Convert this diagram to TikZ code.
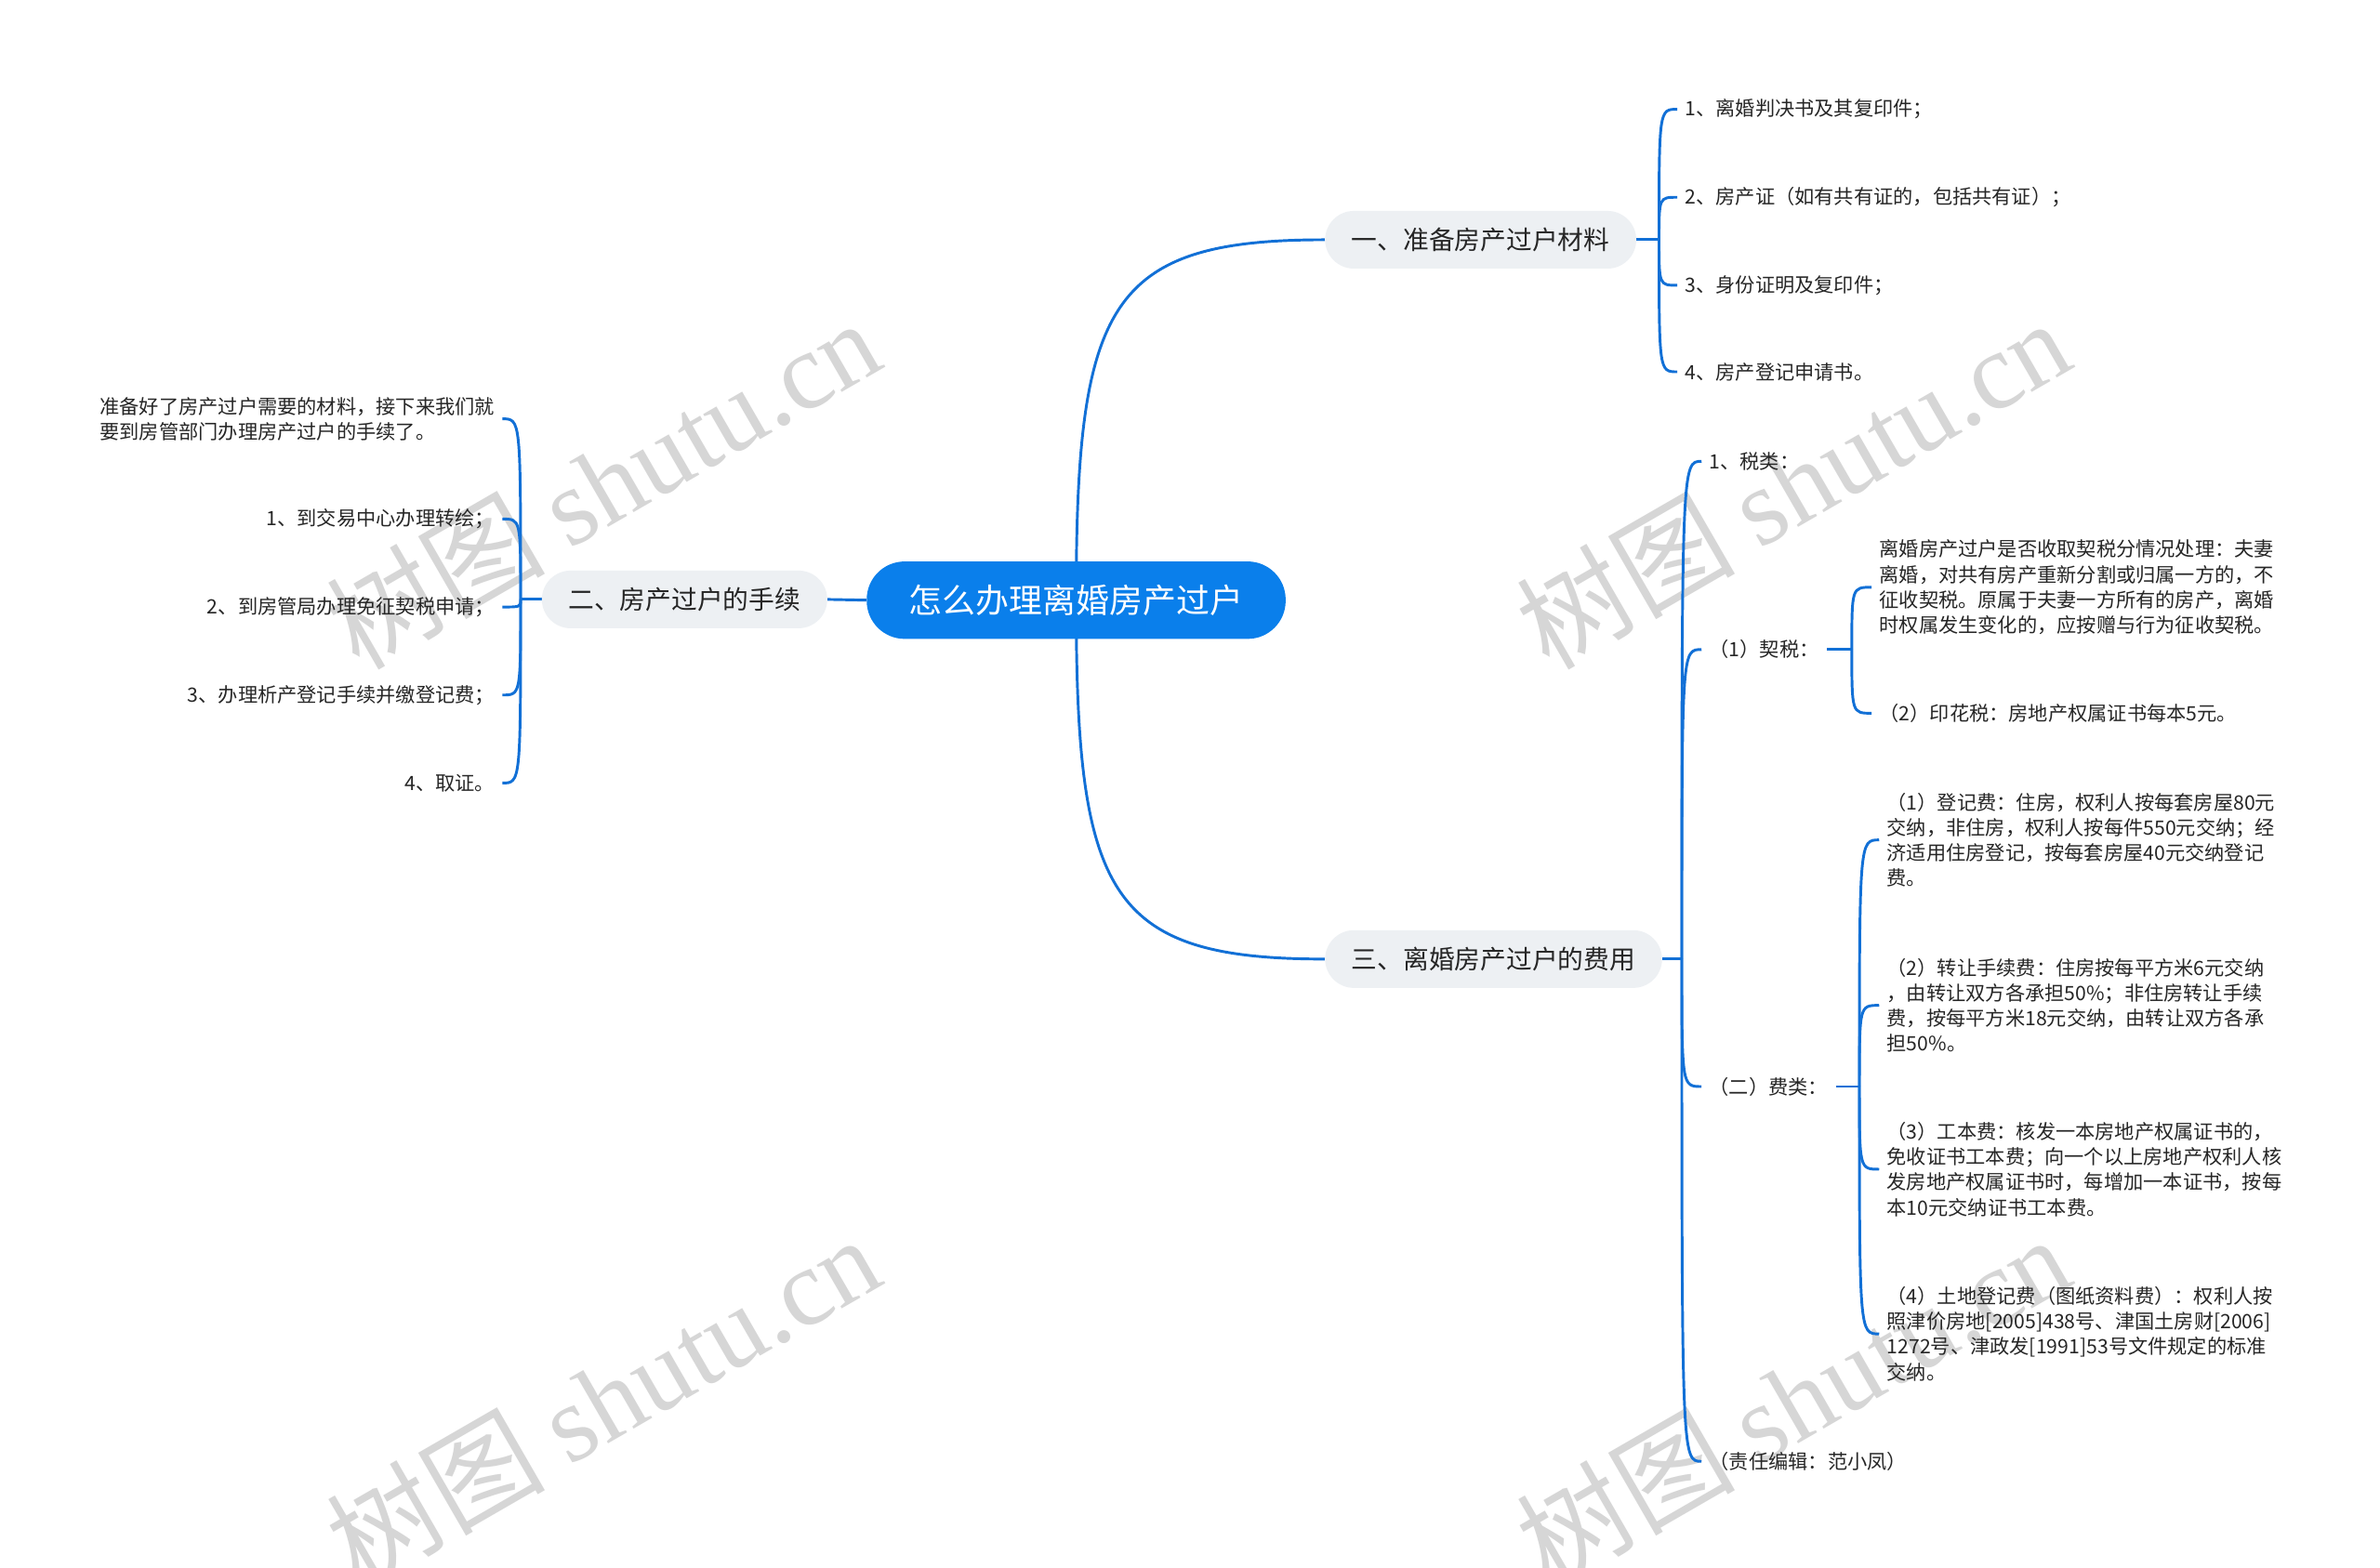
\documentclass[tikz,border=0pt]{standalone}
\usepackage{fontspec}
\setmainfont{Noto Sans CJK SC}
\newfontfamily\wmserif{Liberation Serif}
\newfontfamily\wmcjk{Noto Sans CJK SC}
\usetikzlibrary{backgrounds,calc}
\definecolor{mblue}{RGB}{10,127,235}
\definecolor{lblue}{RGB}{18,112,214}
\definecolor{boxgray}{RGB}{237,240,243}
\definecolor{txt}{RGB}{38,38,38}
\definecolor{wmgray}{RGB}{214,214,214}
\tikzset{
  conn/.style={draw=lblue, line width=1.8pt},
  rootbox/.style={fill=mblue, text=white, rounded corners=25pt, minimum width=276pt,
    minimum height=51pt, inner sep=0pt, font=\fontsize{22}{26}\selectfont},
  mainbox/.style={fill=boxgray, text=txt, rounded corners=19pt, minimum height=38pt,
    inner sep=0pt, font=\fontsize{17}{20}\selectfont},
  leaf/.style={text=txt, inner xsep=5pt, inner ysep=2pt, font=\fontsize{13}{16.7}\selectfont, align=left},
  leafr/.style={leaf, anchor=west},
  leafl/.style={leaf, anchor=east},
  wm/.style={text=wmgray, rotate=30, inner sep=0pt, font=\fontsize{72}{80}\selectfont}
}
\begin{document}
\begin{tikzpicture}[x=1pt,y=-1pt]
\useasboundingbox (0,0) rectangle (1568,1033);

% main nodes
\node[rootbox] (root) at (709,395.5) {怎么办理离婚房产过户};
\node[mainbox, minimum width=205pt] (b1) at (975.5,158) {一、准备房产过户材料};
\node[mainbox, minimum width=188pt] (b2) at (451,395) {二、房产过户的手续};
\node[mainbox, minimum width=222pt] (b3) at (984,632) {三、离婚房产过户的费用};

% junctions
\coordinate (jA) at (1093,158);
\coordinate (jC) at (1108,632);
\coordinate (jT) at (1220,428);
\coordinate (jF) at (1225,716);
\coordinate (jL) at (343,395);

% branch 1 leaves
\node[leafr] (r1) at (1105,72) {1、离婚判决书及其复印件；};
\node[leafr] (r2) at (1105,130) {2、房产证（如有共有证的，包括共有证）；};
\node[leafr] (r3) at (1105,188) {3、身份证明及复印件；};
\node[leafr] (r4) at (1105,245) {4、房产登记申请书。};

% branch 3 leaves
\node[leafr] (t1) at (1121,304) {1、税类：};
\node[leafr] (t2) at (1121,428) {（1）契税：};
\node[leafr] (t3) at (1121,716) {（二）费类：};
\node[leafr] (t4) at (1121,963) {（责任编辑：范小凤）};

\node[leafr] (p1) at (1233,387) {离婚房产过户是否收取契税分情况处理：夫妻\\离婚，对共有房产重新分割或归属一方的，不\\征收契税。原属于夫妻一方所有的房产，离婚\\时权属发生变化的，应按赠与行为征收契税。};
\node[leafr] (p2) at (1233,470) {（2）印花税：房地产权属证书每本5元。};

\node[leafr] (q1) at (1238,553.5) {（1）登记费：住房，权利人按每套房屋80元\\交纳，非住房，权利人按每件550元交纳；经\\济适用住房登记，按每套房屋40元交纳登记\\费。};
\node[leafr] (q2) at (1238,662.5) {（2）转让手续费：住房按每平方米6元交纳\\，由转让双方各承担50\%；非住房转让手续\\费，按每平方米18元交纳，由转让双方各承\\担50\%。};
\node[leafr] (q3) at (1238,770.5) {（3）工本费：核发一本房地产权属证书的，\\免收证书工本费；向一个以上房地产权利人核\\发房地产权属证书时，每增加一本证书，按每\\本10元交纳证书工本费。};
\node[leafr] (q4) at (1238,879) {（4）土地登记费（图纸资料费）：权利人按\\照津价房地[2005]438号、津国土房财[2006]\\1272号、津政发[1991]53号文件规定的标准\\交纳。};

% branch 2 leaves
\node[leafl] (l0) at (331,276) {准备好了房产过户需要的材料，接下来我们就\\要到房管部门办理房产过户的手续了。};
\node[leafl] (l1) at (331,342) {1、到交易中心办理转绘；};
\node[leafl] (l2) at (331,400) {2、到房管局办理免征契税申请；};
\node[leafl] (l3) at (331,458) {3、办理析产登记手续并缴登记费；};
\node[leafl] (l4) at (331,516) {4、取证。};

\begin{pgfonlayer}{background}
\fill[white] (0,0) rectangle (1568,1033);
% watermarks
\node[wm] (w1) at (397,318) {{\wmcjk 树图} {\wmserif shutu.cn}};
\node[wm] (w2) at (1181,318) {{\wmcjk 树图} {\wmserif shutu.cn}};
\node[wm] (w3) at (397,922) {{\wmcjk 树图} {\wmserif shutu.cn}};
\node[wm] (w4) at (1181,922) {{\wmcjk 树图} {\wmserif shutu.cn}};
% root connectors
\draw[conn] (root.center) .. controls (709,200) and (730,158) .. (b1.west);
\draw[conn] (root.center) .. controls (709,590) and (730,632) .. (b3.west);
\draw[conn] (root.west) -- (b2.east);
% branch 1
\draw[conn] (b1.east) -- (jA);
\foreach \n in {r1,r2,r3,r4}
  \draw[conn] (jA) .. controls (jA |- \n.west) .. (\n.west);
% branch 3
\draw[conn] (b3.east) -- (jC);
\foreach \n in {t1,t2,t3,t4}
  \draw[conn] (jC) .. controls (jC |- \n.west) .. (\n.west);
\draw[conn] (t2.east) -- (jT);
\foreach \n in {p1,p2}
  \draw[conn] (jT) .. controls (jT |- \n.west) .. (\n.west);
\draw[conn] (t3.east) -- (jF);
\foreach \n in {q1,q2,q3,q4}
  \draw[conn] (jF) .. controls (jF |- \n.west) .. (\n.west);
% branch 2
\draw[conn] (b2.west) -- (jL);
\foreach \n in {l0,l1,l2,l3,l4}
  \draw[conn] (jL) .. controls (jL |- \n.east) .. (\n.east);
\end{pgfonlayer}
\end{tikzpicture}
\end{document}
